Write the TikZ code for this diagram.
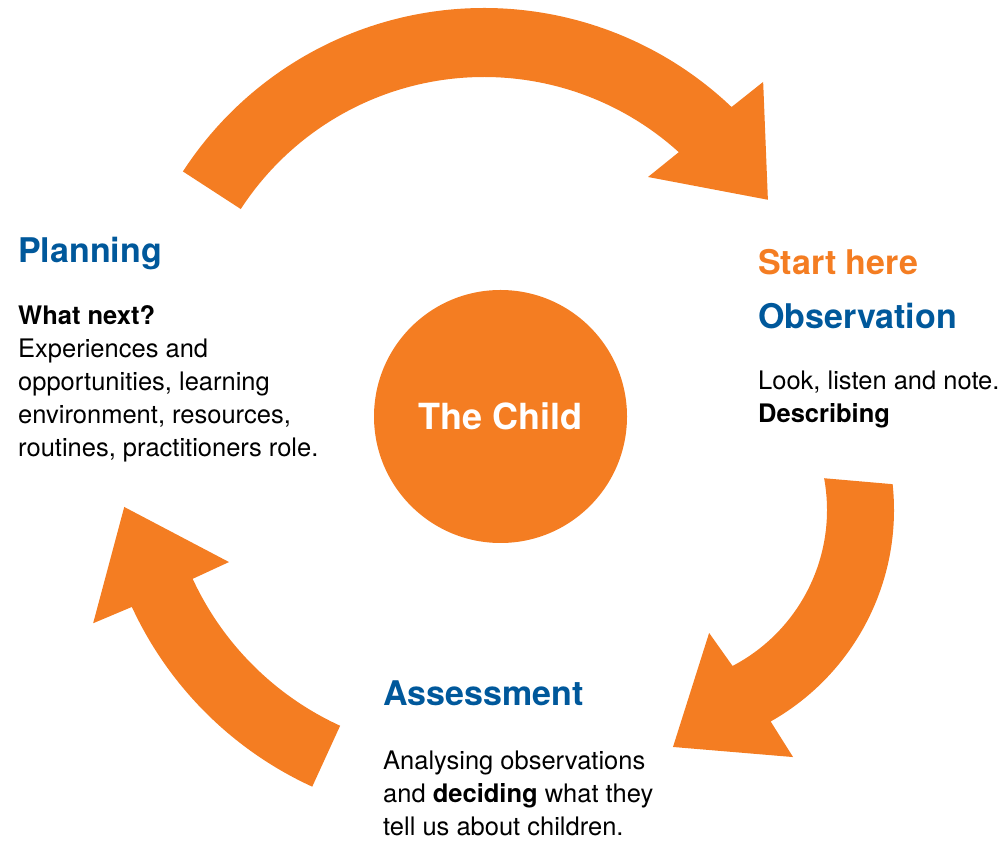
\documentclass[tikz,border=0pt]{standalone}
\usepackage{fontspec}
\setmainfont{TeX Gyre Heros}
\definecolor{cycleorange}{RGB}{244,125,34}
\definecolor{cycleblue}{RGB}{0,88,155}

\begin{document}
\begin{tikzpicture}[x=1pt, y=1pt,
    bigarrow/.style={fill=cycleorange},
    heading/.style={anchor=base west, inner sep=0pt, text=cycleblue,
      font=\fontsize{34}{40}\selectfont\bfseries},
    body/.style={anchor=base west, inner sep=0pt, align=left,
      font=\fontsize{25.5}{33}\selectfont}]
  \useasboundingbox (0,0) rectangle (1008,840);

  % Arrow centres
  \coordinate (topc) at (484,473);
  \coordinate (rightc) at (651,330);
  \coordinate (leftc) at (465,387);

  % Top arrow: Planning -> Observation
  \fill[bigarrow, shift={(topc)}]
    (147:359pt) arc[start angle=147, end angle=46.4, radius=359pt]
    -- (45.6:399pt) -- (30.5:329.5pt) -- (49.2:251pt)
    -- (47.8:290pt) arc[start angle=47.8, end angle=147, radius=290pt] -- cycle;

  % Right arrow: Observation -> Assessment
  \fill[bigarrow, shift={(rightc)}]
    (6.1:243pt) arc[start angle=6.1, end angle=-60.5, radius=243pt]
    -- (-60.1:285pt) -- (-84.7:238pt) -- (-64.7:136pt)
    -- (-62.4:176pt) arc[start angle=-62.4, end angle=10.4, radius=176pt] -- cycle;

  % Left arrow: Assessment -> Planning
  \fill[bigarrow, shift={(leftc)}]
    (245.4:367pt) arc[start angle=245.4, end angle=204.8, radius=367pt]
    -- (204.6:409pt) -- (189:345pt) -- (204.8:260pt)
    -- (204.8:300pt) arc[start angle=204.8, end angle=245.4, radius=300pt] -- cycle;

  % The child in the middle
  \node[circle, fill=cycleorange, minimum size=253pt, inner sep=0pt, text=white,
    font=\fontsize{36}{40}\selectfont\bfseries] (child) at (500.5,423.5) {The Child};

  % Planning (body placed by its last line)
  \node[heading] (plan) at (18,577) {Planning};
  \node[body] (plantext) at (18,383) {\textbf{What next?}\\
    Experiences and\\ opportunities, learning\\ environment, resources,\\
    routines, practitioners role.};

  % Observation
  \node[heading, text=cycleorange] (start) at (758,565) {Start here};
  \node[heading] (obs) at (758,511) {Observation};
  \node[body] (obstext) at (758,417) {Look, listen and note.\\ \textbf{Describing}};

  % Assessment
  \node[heading] (assess) at (383,134) {Assessment};
  \node[body] (assesstext) at (383,5) {Analysing observations\\
    and \textbf{deciding} what they\\ tell us about children.};
\end{tikzpicture}
\end{document}
